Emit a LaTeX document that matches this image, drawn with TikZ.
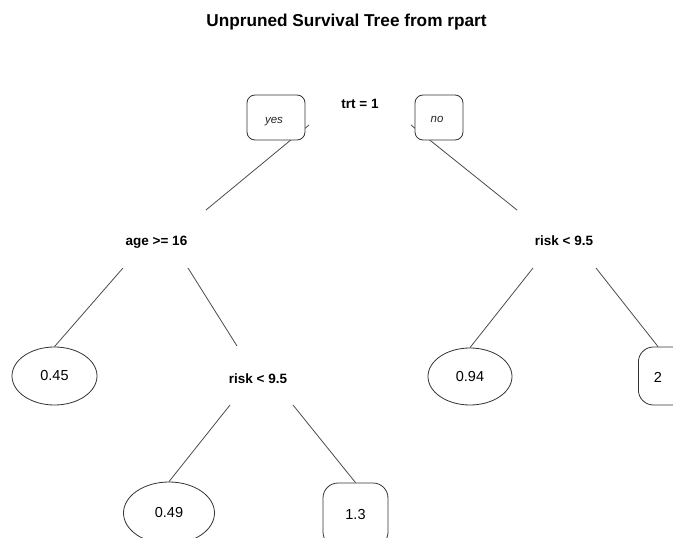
\documentclass[tikz,border=0pt]{standalone}
\usepackage{fontspec}
\setmainfont{Liberation Sans}
\usetikzlibrary{shapes.geometric}
\begin{document}
\begin{tikzpicture}[x=1pt,y=-1pt,
  edge/.style={draw=black!70,line width=0.8pt},
  splitlbl/.style={font=\fontsize{13.5}{15}\selectfont\bfseries,inner sep=0pt,anchor=base},
  leafell/.style={ellipse,draw=black!80,line width=0.8pt,fill=white,inner sep=0pt,
     font=\fontsize{14.5}{16}\selectfont},
  leafbox/.style={rectangle,rounded corners=15pt,draw=black!80,line width=0.8pt,fill=white,inner sep=0pt,
     font=\fontsize{14.5}{16}\selectfont},
  ynbox/.style={rectangle,rounded corners=8pt,draw=black!80,line width=0.8pt,fill=white,inner sep=0pt},
  ynlbl/.style={font=\fontsize{11.5}{13}\selectfont\itshape,inner sep=0pt,anchor=base,text=black!85}]
\useasboundingbox (0,0) rectangle (673,538);
\clip (0,0) rectangle (673,538);
\fill[white] (0,0) rectangle (673,538);

% title
\node[font=\fontsize{17.2}{19}\selectfont\bfseries,inner sep=0pt,anchor=base] (title) at (346.5,27) {Unpruned Survival Tree from rpart};

% split labels
\node[splitlbl] (root) at (360,108) {trt = 1};
\node[splitlbl] (age) at (156.5,245) {age >= 16};
\node[splitlbl] (riskR) at (564,245) {risk < 9.5};
\node[splitlbl] (riskM) at (258,383) {risk < 9.5};

% connector coordinates
\coordinate (rL) at (309,125);
\coordinate (rR) at (411,125);
\coordinate (ageIn) at (206,210);
\coordinate (riskRIn) at (517,210);
\coordinate (aL) at (123,268);
\coordinate (aR) at (188,268);
\coordinate (aRend) at (237,346);
\coordinate (mL) at (230,405);
\coordinate (mR) at (293,405);
\coordinate (rRL) at (533,268);
\coordinate (rRR) at (596,268);

% leaves
\node[leafell,minimum width=85pt,minimum height=58pt] (l045) at (54.5,376) {0.45};
\node[leafell,minimum width=84pt,minimum height=57pt] (l094) at (470,376.5) {0.94};
\node[leafell,minimum width=91pt,minimum height=62pt] (l049) at (169,513) {0.49};
\node[leafbox,minimum width=65pt,minimum height=64pt] (l13) at (355.5,515) {1.3};
\node[leafbox,minimum width=64pt,minimum height=58pt,anchor=west] (b2) at (638,376) {};
\node[inner sep=0pt,font=\fontsize{14.5}{16}\selectfont] (t2) at (658,377) {2};

% connectors
\draw[edge] (rL) -- (ageIn);
\draw[edge] (rR) -- (riskRIn);
\draw[edge] (aL) -- (l045.north);
\draw[edge] (aR) -- (aRend);
\draw[edge] (mL) -- (l049.north);
\draw[edge] (mR) -- (l13.north);
\draw[edge] (rRL) -- (l094.north);
\draw[edge] (rRR) -- (t2 |- b2.north);

% yes / no boxes (drawn over the branch lines)
\node[ynbox,minimum width=58pt,minimum height=45pt] (yesbox) at (276,117.5) {};
\node[ynlbl] (yes) at (274,123) {yes};
\node[ynbox,minimum width=48pt,minimum height=45pt] (nobox) at (439,117.5) {};
\node[ynlbl] (no) at (437,122) {no};
\end{tikzpicture}
\end{document}
